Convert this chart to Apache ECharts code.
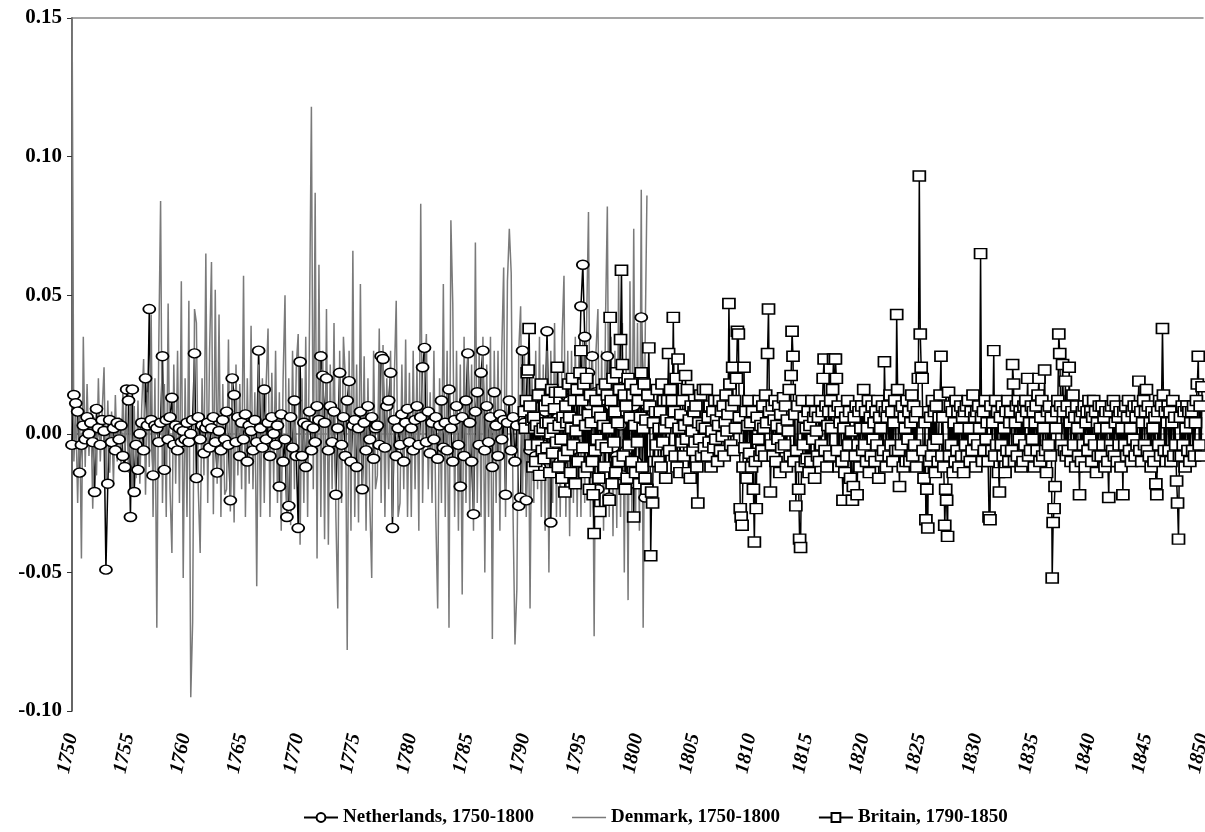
<!DOCTYPE html>
<html>
<head>
<meta charset="utf-8">
<script src="https://cdn.jsdelivr.net/npm/echarts@6/dist/echarts.min.js"></script>
<style>
  html, body { margin: 0; padding: 0; background: #fff; }
  #chart { width: 1205px; height: 832px; }
</style>
</head>
<body>
<div id="chart"></div>
<script>
// 数据：荷兰、丹麦每年6个点，英国每年12个点
var nlStart = 1750, nlPerYear = 6;
var dkStart = 1750, dkPerYear = 6;
var gbStart = 1790, gbPerYear = 12;

var nlVals = [
  -.004,.014,.011,.008,-.014,-.004,
  .003,-.002,.006,.000,.004,-.003,
  -.021,.009,.002,-.004,.005,.001,
  -.049,-.018,.005,-.003,.002,-.006,
  .004,-.002,.003,-.008,-.012,.016,
  .012,-.030,.016,-.021,-.004,-.013,
  .000,.004,-.006,.020,.003,.045,
  .005,-.015,.003,.002,-.003,.004,
  .028,-.013,.005,-.002,.006,.013,
  -.004,.003,-.006,.002,-.003,.001,
  -.002,.004,-.003,.000,.005,.029,
  -.016,.006,-.002,.003,-.007,.002,
  .004,-.005,.002,.006,-.003,-.014,
  .001,-.006,.005,-.002,.008,-.004,
  -.024,.020,.014,-.003,.006,-.008,
  .004,-.002,.007,-.010,.003,.001,
  -.006,.005,-.003,.030,.002,-.005,
  .016,-.002,.004,-.008,.006,.000,
  -.004,.003,-.019,.007,-.010,-.002,
  -.030,-.026,.006,-.005,.012,-.008,
  -.034,.026,-.008,.004,-.012,.003,
  .008,-.006,.002,-.003,.010,.005,
  .028,.021,.004,.020,-.006,.010,
  -.003,.008,-.022,.002,.022,-.004,
  .006,-.008,.012,.019,-.010,.003,
  .005,-.012,.002,.008,-.020,.004,
  -.006,.010,-.002,.006,-.009,.002,
  .003,-.004,.028,.027,-.005,.010,
  .012,.022,-.034,.005,-.008,.002,
  -.004,.007,-.010,.004,.009,-.003,
  .002,-.006,.005,.010,-.004,.006,
  .024,.031,-.003,.008,-.007,.004,
  -.002,.006,-.009,.003,.012,-.005,
  .004,-.006,.016,.002,-.010,.005,
  .010,-.004,-.019,.006,-.008,.012,
  .029,.004,-.010,-.029,.008,.015,
  -.004,.022,.030,-.006,.010,-.003,
  .006,-.012,.015,.003,-.008,.007,
  -.002,.005,-.022,.004,.012,-.006,
  .006,-.010,.003,-.026,-.023,.030,
  .004,-.024,.010,-.006,.012,.002,
  -.008,.006,-.012,.016,-.004,.008,
  .037,.004,-.032,.010,-.006,.012,
  .006,-.010,.015,-.004,.008,-.014,
  .012,-.006,.018,.004,-.010,.020,
  .046,.061,.035,-.005,.022,.010,
  .028,-.010,.015,-.020,.006,.012,
  .004,-.012,.028,-.023,.010,-.005,
  .015,-.008,.020,.003,-.015,.008,
  -.006,.012,-.018,.005,.010,-.010,
  .006,-.015,.042,.019,-.023,.010
];

var dkVals = [
  .160,-.010,.008,-.025,.010,-.045,
  .035,-.012,.018,-.008,.010,-.027,
  .006,-.015,.020,-.010,.008,.024,
  -.020,.012,-.014,.008,-.018,.014,
  -.010,.006,-.012,.016,-.008,.010,
  -.014,.013,-.020,.010,-.016,.012,
  -.018,.010,.027,-.022,.015,-.012,
  .043,-.030,.020,-.070,.030,.084,
  -.025,.018,-.030,.047,-.020,-.043,
  .025,-.018,.030,-.025,.055,-.052,
  .020,-.030,.048,-.095,-.068,.045,
  .040,-.020,-.043,.020,-.015,.065,
  -.025,.030,.062,-.029,.052,-.018,
  .043,-.030,.018,-.022,-.020,.034,
  -.028,.020,-.032,.025,-.015,.018,
  -.020,.057,-.030,.020,-.018,.039,
  -.020,.015,-.055,.025,-.030,.020,
  -.025,.018,.038,-.030,.022,-.018,
  .030,-.025,.015,-.035,.020,.050,
  -.030,.020,-.033,.030,-.020,.025,
  .036,-.040,.020,-.025,.035,-.030,
  .040,.118,-.020,.087,-.045,.061,
  -.030,.030,-.038,.045,-.040,.025,
  -.020,.040,-.030,-.063,.030,-.025,
  .035,.020,-.078,.030,-.035,.066,
  -.030,.025,-.032,.054,-.020,.028,
  -.035,.020,-.025,-.052,.030,-.020,
  -.015,.038,-.025,.032,-.030,.020,
  -.020,.030,-.030,.020,.048,-.030,
  -.025,.025,-.020,.034,-.030,.022,
  -.030,.030,-.020,.025,-.035,.083,
  -.025,.020,.036,-.020,.015,-.025,
  .030,-.030,-.063,.020,-.025,.054,
  -.030,.030,-.070,.077,.047,-.030,
  .030,-.035,.025,-.058,.035,-.025,
  .030,-.030,.025,-.035,.069,-.025,
  .030,-.030,.035,-.050,.025,-.030,
  .035,-.074,.030,-.025,.030,-.035,
  .030,.060,-.030,.055,.074,.058,
  -.030,-.076,-.056,.030,.046,-.025,
  .030,-.030,.025,-.063,.020,-.025,
  .030,-.020,.035,-.030,.025,-.035,
  .030,-.050,.030,-.025,.040,-.030,
  .025,-.030,.035,.057,-.030,.030,
  -.037,.030,-.025,.035,-.030,.030,
  -.030,.035,-.025,.040,.080,-.030,
  .030,-.073,.030,.045,-.030,.030,
  -.035,.040,.082,-.030,.035,-.037,
  .030,-.034,.057,-.030,.040,-.050,
  .035,-.060,.055,-.030,.074,-.030,
  .040,-.035,.088,-.070,.030,.086
];

var gbVals = [
  .008,.002,.012,.022,.023,.038,.010,-.004,.005,-.012,.006,.002,
  -.010,.003,-.004,.014,-.015,.001,.018,-.006,.002,-.009,.010,.004,
  -.005,.012,.004,-.014,.000,.016,-.007,.002,.009,.015,-.003,.024,
  -.012,.003,.015,-.002,-.016,.006,-.008,-.021,.010,.004,-.006,.018,
  .006,-.014,.002,.020,-.004,.012,-.018,.001,.016,-.010,.005,.022,
  .030,.012,-.005,.018,-.014,.003,.020,-.012,.007,-.020,.014,.004,
  -.010,-.022,-.036,-.006,.012,-.002,.008,-.016,-.028,.006,-.004,.016,
  .003,-.012,.018,-.005,.014,.002,-.024,.042,.012,-.018,.020,-.003,
  .008,-.014,.022,.004,-.010,.016,.034,.059,.025,-.008,.014,-.020,
  .010,-.016,.020,-.004,.006,.018,-.010,.014,-.030,.003,-.014,.016,
  -.003,.012,-.018,.006,.022,-.012,.002,.018,-.016,.005,-.020,.014,
  .031,.010,-.044,-.021,-.025,.004,-.010,.008,-.004,.016,-.010,.002,
  .008,-.012,.018,-.003,.012,.002,-.016,.005,.012,.029,-.006,.016,
  .004,.012,.042,.008,-.008,.020,-.012,.027,.002,-.014,.007,-.003,
  .012,-.008,.003,.021,-.002,.016,-.014,.005,-.016,.010,.001,-.006,
  .008,-.003,.010,-.012,-.025,.004,-.002,.014,-.008,.003,.016,-.005,
  .002,.016,-.008,.006,-.003,.010,-.012,.001,.008,-.005,.012,-.002,
  .005,-.010,.003,.012,-.006,.008,-.001,.010,-.008,.004,.014,.001,
  .007,.047,.018,-.004,.010,.024,-.006,.012,.002,.020,.037,.036,
  .006,-.027,-.030,-.033,-.012,.024,-.005,.008,-.016,.003,.012,-.007,
  .004,-.012,.008,-.020,-.039,-.010,-.027,.006,-.002,.012,-.008,.003,
  -.006,.010,.002,-.008,.014,.004,.029,.045,.008,-.021,-.004,.010,
  -.008,.005,.012,-.010,.003,-.002,.010,-.014,.007,-.005,.002,.013,
  -.004,.010,-.012,.005,.001,.016,-.008,.021,.037,.028,-.010,.007,
  -.026,-.006,.010,-.020,-.038,-.041,-.012,.012,-.004,.006,-.010,.002,
  -.009,.008,-.014,.003,-.010,.012,-.002,.006,-.016,.008,.001,-.008,
  .006,-.010,.012,-.004,.008,.020,.027,-.006,.010,-.012,.003,.008,
  -.008,.012,.002,.016,.027,.008,.027,.020,-.006,.010,-.012,.004,
  .008,-.010,-.024,.002,-.014,.006,-.008,.012,-.004,.008,-.016,.001,
  -.024,-.019,.006,-.008,.010,-.022,-.004,.008,-.012,.002,.010,-.006,
  .016,-.004,.008,-.010,.002,.012,-.014,.006,-.008,.010,-.002,.004,
  -.010,.008,-.004,.012,-.016,.006,.002,-.008,.010,-.006,.026,.008,
  -.012,.006,.010,-.008,.014,-.004,.008,-.010,.004,.012,-.006,.043,
  .016,-.006,-.019,.008,-.004,.010,-.012,.006,.002,-.010,.012,-.002,
  .008,-.010,.004,.014,-.008,.010,-.004,.006,-.012,.008,.020,.093,
  .036,.024,.020,-.006,-.016,.004,-.031,-.020,-.034,.008,-.010,.006,
  -.008,.012,-.004,.008,-.014,.010,-.002,-.010,.006,.014,.028,-.008,
  .006,-.012,-.033,-.020,-.024,-.037,.015,-.008,.010,-.004,.008,-.014,
  .004,-.010,.012,-.006,.008,-.012,.002,.010,-.008,.006,-.014,.008,
  -.004,.010,-.008,.012,.002,-.010,.008,-.006,.014,-.002,.006,-.012,
  .008,-.004,.010,.002,.065,.006,-.010,.008,-.006,.012,-.002,.004,
  -.010,-.030,-.031,.010,-.006,.004,.030,-.008,.012,-.004,.008,-.014,
  -.021,.006,-.004,.010,-.008,.002,-.014,.008,-.006,.012,-.010,.004,
  .008,-.006,.025,.018,-.010,.004,.010,-.008,.012,-.002,.008,-.012,
  .006,-.010,.010,-.004,.012,.008,.020,-.008,.004,-.006,.010,-.002,
  .008,-.012,.004,.010,-.006,.014,.020,-.010,.006,.012,-.008,.002,
  .023,-.006,-.014,.008,-.004,.010,-.008,.006,-.052,-.032,-.027,-.019,
  .002,.008,.012,.036,.029,.010,-.004,.025,.008,-.006,.019,-.008,
  .010,-.006,.024,.004,-.010,.008,.014,-.004,.006,-.012,.010,.002,
  -.008,-.022,.006,-.010,.008,-.004,.010,-.012,.004,.008,-.006,.012,
  -.002,.008,-.010,.006,.012,-.004,.008,-.014,.004,-.008,.010,.002,
  -.008,.010,-.004,.006,-.012,.008,.002,-.010,-.023,.008,-.004,.010,
  -.006,.012,-.008,.004,.010,-.010,.006,-.004,.008,-.012,.002,-.022,
  .008,-.004,.010,-.008,.006,.012,-.006,.002,-.010,.008,-.002,.010,
  -.008,.006,-.004,.010,.019,-.006,.008,-.010,.004,.012,-.004,.008,
  .016,-.006,.010,-.008,.004,-.012,.008,.002,-.010,.006,-.018,-.022,
  .008,-.004,.012,-.008,.010,.038,.014,-.006,.008,-.010,.004,.010,
  -.006,.008,-.010,.004,.012,-.008,.006,-.004,-.017,-.025,-.038,-.008,
  .006,-.008,.010,-.004,.008,-.012,.002,.010,-.006,.008,-.010,.004,
  .008,-.006,.010,-.008,.004,.012,.018,.028,-.004,.010,-.008,.017
];

var seriesNames = ['Netherlands, 1750-1800', 'Denmark, 1750-1800', 'Britain, 1790-1850'];
var yMin = -0.10, yMax = 0.15, yStep = 0.05;
var xMin = 1750, xMax = 1850, xStep = 5;

function toPairs(vals, start, perYear) {
  return vals.map(function (v, i) { return [start + i / perYear, v]; });
}

// 丹麦图例只画一条灰线（前两段是撑开包围盒用的零面积小三角）
var plainLineIcon = 'path://M0,0L1,0L1,0.001Z M0,11L1,11L1,11.001Z M0,4.8L34,4.8L34,6.3L0,6.3Z';

var fontFam = '"Liberation Serif", "Times New Roman", serif';
var myChart = echarts.init(document.getElementById('chart'));
myChart.setOption({
  animation: false,
  grid: { left: 72, right: 2, top: 18, bottom: 121, outerBoundsMode: 'none' },
  legend: {
    bottom: 0,
    left: 298,
    itemGap: 38,
    itemWidth: 34,
    itemHeight: 11,
    textStyle: { fontFamily: fontFam, fontWeight: 'bold', fontSize: 19, color: '#000' },
    data: [
      { name: seriesNames[0] },
      { name: seriesNames[1], icon: plainLineIcon, itemStyle: { color: '#7a7a7a' } },
      { name: seriesNames[2] }
    ]
  },
  xAxis: [
    {
      type: 'value',
      min: xMin,
      max: xMax,
      interval: xStep,
      splitLine: { show: false },
      axisTick: { show: false },
      axisLine: { lineStyle: { color: '#888', width: 1.5 } },
      axisLabel: {
        rotate: 78,
        margin: 23,
        color: '#000',
        fontFamily: fontFam,
        fontWeight: 'bold',
        fontStyle: 'italic',
        fontSize: 20,
        formatter: function (v) { return String(v); }
      }
    },
    {
      // 上边框
      type: 'value',
      position: 'top',
      min: xMin,
      max: xMax,
      splitLine: { show: false },
      axisTick: { show: false },
      axisLabel: { show: false },
      axisLine: { show: true, lineStyle: { color: '#888', width: 1.5 } }
    }
  ],
  yAxis: {
    type: 'value',
    min: yMin,
    max: yMax,
    interval: yStep,
    splitLine: { show: false },
    axisLine: { show: true, lineStyle: { color: '#333', width: 1.5 } },
    axisTick: { show: true, length: 5, lineStyle: { color: '#333' } },
    axisLabel: {
      margin: 10,
      color: '#000',
      fontFamily: fontFam,
      fontWeight: 'bold',
      fontSize: 21,
      formatter: function (v) { return v.toFixed(2); }
    }
  },
  series: [
    {
      name: seriesNames[0],
      type: 'line',
      data: toPairs(nlVals, nlStart, nlPerYear),
      symbol: 'circle',
      symbolSize: [12, 9],
      showAllSymbol: true,
      lineStyle: { color: '#000', width: 1.5 },
      itemStyle: { color: '#fff', borderColor: '#000', borderWidth: 1.6 }
    },
    {
      name: seriesNames[1],
      type: 'line',
      data: toPairs(dkVals, dkStart, dkPerYear),
      symbol: 'none',
      lineStyle: { color: '#7a7a7a', width: 1.5 },
      itemStyle: { color: '#7a7a7a' }
    },
    {
      name: seriesNames[2],
      type: 'line',
      data: toPairs(gbVals, gbStart, gbPerYear),
      symbol: 'rect',
      symbolSize: [12, 10],
      showAllSymbol: true,
      lineStyle: { color: '#000', width: 1.5 },
      itemStyle: { color: '#fff', borderColor: '#000', borderWidth: 1.6 }
    }
  ]
});
</script>
</body>
</html>
